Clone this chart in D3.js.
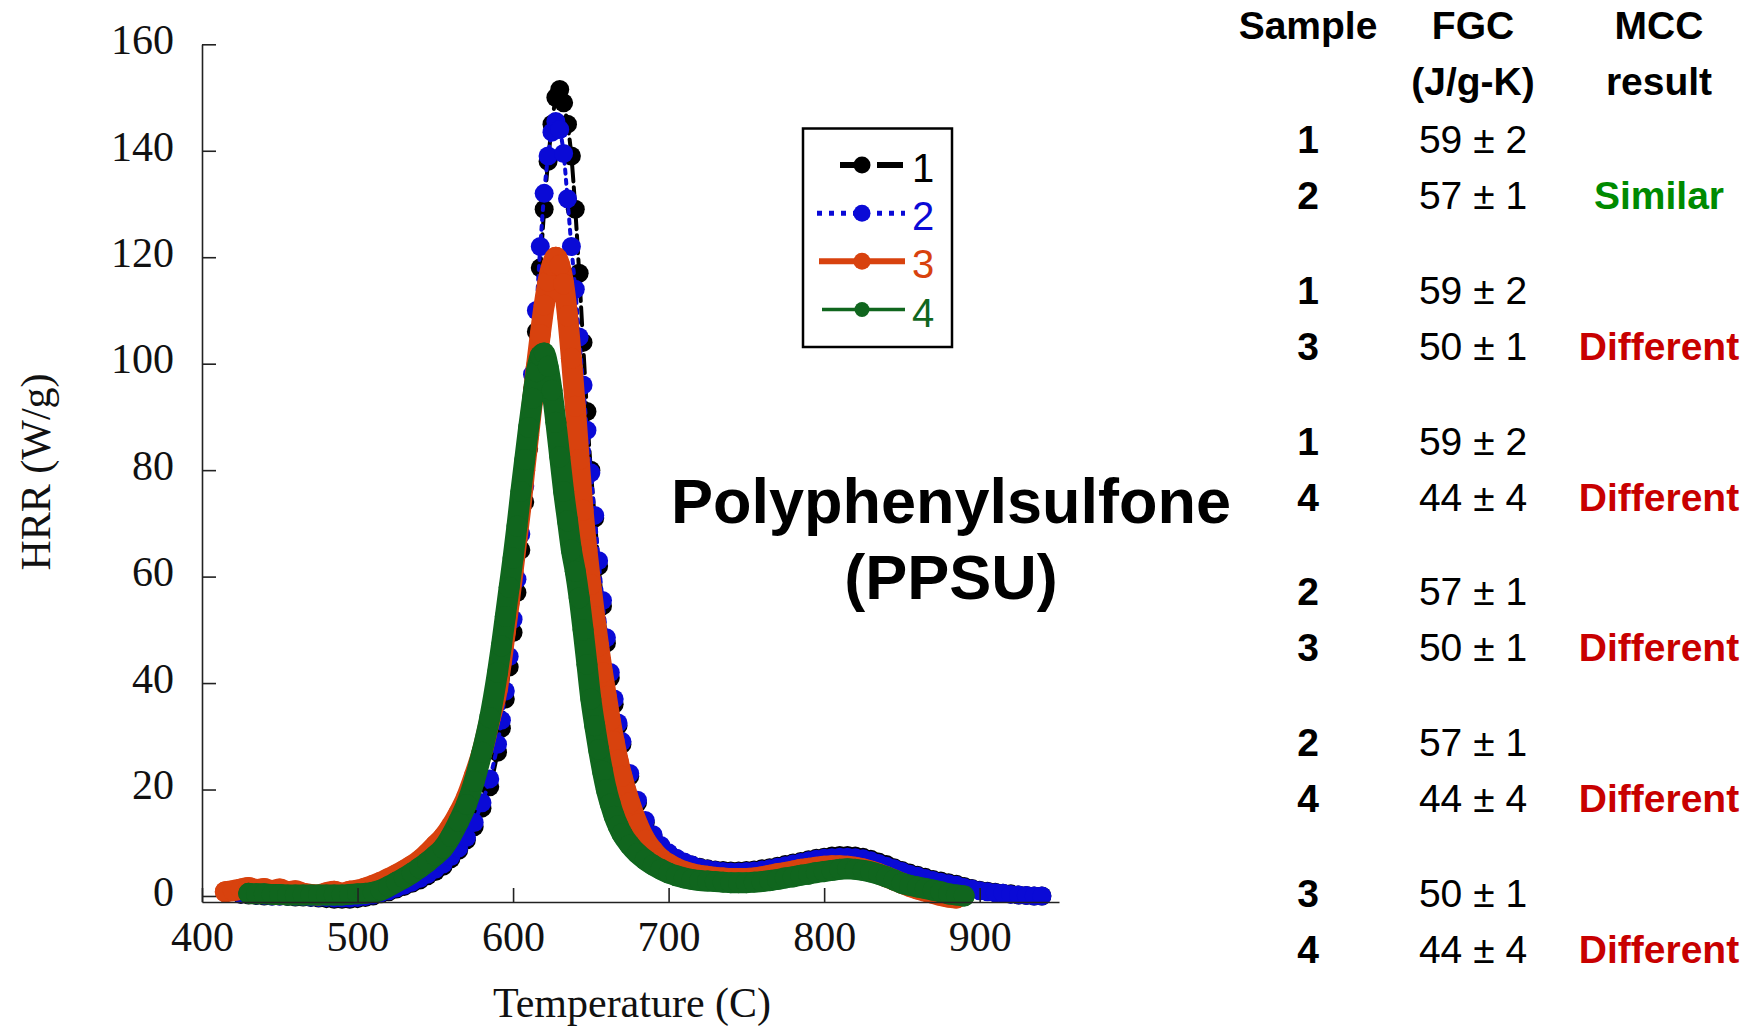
<!DOCTYPE html>
<html><head><meta charset="utf-8">
<script src="https://cdn.jsdelivr.net/npm/d3@7"></script>
<style>html,body{margin:0;padding:0;background:#fff;} svg{display:block;}</style>
</head><body>
<svg id="chart" width="1754" height="1027"></svg>
<script>
// ---------- data ----------
const temps = [
 415,420,425,430,435,440,445,450,455,460,465,470,475,480,485,490,495,500,505,510,
 515,520,525,530,535,540,545,550,555,560,565,570,575,580,585,
 590,592.5,595,597.5,600,602.5,605,607.5,610,612.5,615,617.5,620,622.5,625,627.5,
 630,632.5,635,637.5,640,642.5,645,647.5,650,652.5,655,657.5,660,662.5,665,667.5,670,
 675,680,685,690,695,700,705,710,715,720,725,730,735,740,745,750,755,760,765,770,
 775,780,785,790,795,800,805,810,815,820,825,830,835,840,845,850,855,860,865,870,
 875,880,885,890,895,900,905,910,915,920,925,930,935,940
];
const hrr1 = [
 null,null,0.3,0.2,0.1,0,0,0,-0.1,-0.2,-0.2,-0.3,-0.4,-0.5,-0.6,-0.6,-0.6,-0.5,-0.3,0,
 0.4,0.8,1.3,1.8,2.4,3,3.8,4.6,5.6,7,8.6,10.5,13,16.5,20.5,
 27,31.5,37,43,49.5,57,65,74,84,95,106,118,129,138,145,150,
 151.5,149,145,139,129,117,104,91,80,71,62,54.5,47.5,41,36,32,28.5,
 22.5,17.5,13.8,11.2,9.3,8,7,6.3,5.8,5.4,5.1,4.9,4.8,4.7,4.7,4.8,4.9,5.1,5.3,5.6,
 5.9,6.2,6.5,6.8,7.1,7.3,7.5,7.6,7.6,7.5,7.3,6.9,6.4,5.9,5.3,4.8,4.3,3.9,3.5,3.1,
 2.8,2.5,2.2,1.8,1.4,1.1,0.9,0.7,0.5,0.4,0.2,0.1,0,0
];
const hrr2 = [
 null,null,0.4,0.3,0.2,0.1,0,0,0,-0.1,-0.1,-0.2,-0.3,-0.3,-0.4,-0.4,-0.4,-0.3,-0.1,0.2,
 0.6,1,1.5,2,2.6,3.3,4.1,5,6,7.4,9,11,13.8,17.5,22,
 28.5,33,38.5,45,52,59.5,68,77,87,98,110,122,132,139,143.5,145.5,
 144,139.5,131,122,114,105,96,87.5,79.5,71.5,63,55.5,48.5,42,37,32.5,29,
 23,18,14.2,11.5,9.5,8.1,7.1,6.4,5.8,5.3,5,4.8,4.6,4.5,4.5,4.6,4.7,4.9,5.1,5.4,
 5.7,6,6.3,6.6,6.9,7.1,7.2,7.3,7.3,7.2,7,6.6,6.1,5.6,5.1,4.6,4.1,3.7,3.3,2.9,
 2.6,2.3,2,1.6,1.3,1,0.8,0.6,0.5,0.3,0.2,0.1,0,0
];
const hrr3 = [
 0.8,1,1.3,1.6,1.2,1.4,1,1.3,0.8,1,0.5,0.3,0.2,0.6,0.9,0.5,0.9,1.1,1.5,2,
 2.6,3.3,4,4.8,5.7,6.7,8,9.5,11,13,15.5,18.5,22.5,27,33,
 39,44,49.5,55,61,67,73,80,86.5,93,99.5,105.5,111,115.5,118.5,120,
 118.5,115,109,101,92,82,72.5,65,58.5,52.5,47,42,37.5,33,29,25.5,22.5,
 17.5,13.5,10.5,8.5,7,6,5.2,4.6,4.2,3.9,3.7,3.5,3.4,3.3,3.3,3.3,3.4,3.6,3.9,4.2,
 4.4,4.7,5,5.2,5.4,5.6,5.7,5.7,5.6,5.4,5.1,4.7,4.2,3.6,3,2.4,1.8,1.3,0.9,0.5,
 0.1,-0.2,-0.4,null,null,null,null,null,null,null,null,null,null,null
];
const hrr4 = [
 null,null,null,0.5,0.4,0.4,0.3,0.3,0.2,0.2,0.2,0.2,0.2,0.2,0.2,0.2,0.3,0.4,0.5,0.7,
 1.1,1.8,2.6,3.4,4.3,5.3,6.4,7.6,9,11.2,14,17.2,21.5,27,33.5,
 42,47,52.5,58,63.5,69.5,76,82,88,93.5,98.5,101.5,102,99.5,95,89,
 82.5,76,70.5,65,61,56,50,43.5,37,32,27.5,23.5,20,17.3,15,13.2,11.7,
 9.6,8,6.8,5.8,5,4.3,3.8,3.4,3.1,2.9,2.8,2.7,2.6,2.5,2.5,2.5,2.6,2.7,2.9,3.1,
 3.4,3.6,3.9,4.1,4.4,4.6,4.8,5,5.1,5,4.8,4.5,4.1,3.6,3,2.4,2,1.7,1.4,1.1,
 0.8,0.4,0.2,0,null,null,null,null,null,null,null,null,null,null
];
const seriesNames = ["1","2","3","4"];
const xTicks = [400,500,600,700,800,900];
const yTicks = [0,20,40,60,80,100,120,140,160];

const sampleIds = [1,2,3,4];
const fgcMean = [59,57,50,44];
const fgcErr = [2,1,1,4];
const pairs = [[1,2],[1,3],[1,4],[2,3],[2,4],[3,4]];
const mccResults = ["Similar","Different","Different","Different","Different","Different"];

// ---------- styles ----------
const SERIF = "'Liberation Serif','Times New Roman',serif";
const SANS = "'Liberation Sans',Arial,Helvetica,sans-serif";
const styles = [
  {color:"#000000", width:4, dash:"18,6", r:9.5, legW:6, legDash:"17,20,26", legR:8.5, legX0:840, legX1:903},
  {color:"#0a0ad6", width:4, dash:"4,6",  r:9.5, legW:5, legDash:"5,7", legR:8.5, legX0:817, legX1:905},
  {color:"#d8420e", width:21, dash:null,  r:10.5, legW:6, legDash:null, legR:8.5, legX0:819, legX1:905},
  {color:"#10661e", width:21, dash:null,  r:10.5, legW:3.5, legDash:null, legR:7.5, legX0:822, legX1:905}
];
const resultColor = {"Similar":"#008a00","Different":"#c80000"};

const svg = d3.select("#chart");
svg.append("rect").attr("width",1754).attr("height",1027).attr("fill","#fff");

const x = d3.scaleLinear().domain([400, 951]).range([202, 1059]);
const y = d3.scaleLinear().domain([-1.13, 160]).range([902, 44.3]);

// ---------- series ----------
const allSeries = [hrr1,hrr2,hrr3,hrr4].map(vals => temps.map((t,i)=>({t, v: vals[i]})).filter(d=>d.v!==null));
const line = d3.line().x(d=>x(d.t)).y(d=>y(d.v)).curve(d3.curveMonotoneX);

const plot = svg.append("g");
allSeries.forEach((data, si) => {
  const st = styles[si];
  const g = plot.append("g");
  g.append("path").datum(data).attr("d", line)
    .attr("fill","none").attr("stroke", st.color).attr("stroke-width", st.width)
    .attr("stroke-linejoin","round").attr("stroke-linecap","round")
    .attr("stroke-dasharray", st.dash);
  g.selectAll("circle").data(data).join("circle")
    .attr("cx", d=>x(d.t)).attr("cy", d=>y(d.v)).attr("r", st.r)
    .attr("fill", st.color);
});

// ---------- axes ----------
const yAxis = d3.axisLeft(y).tickValues(yTicks).tickSizeInner(-14).tickSizeOuter(0).tickPadding(28);
const gy = svg.append("g").attr("transform","translate(202,0)").call(yAxis);
const xAxis = d3.axisBottom(x).tickValues(xTicks).tickSizeInner(-14).tickSizeOuter(0).tickPadding(19);
const gx = svg.append("g").attr("transform","translate(0,902)").call(xAxis);
[gy,gx].forEach(g=>{
  g.attr("font-family", SERIF).attr("font-size", 42);
  g.select(".domain").attr("stroke","#222").attr("stroke-width",1.6);
  g.selectAll(".tick line").attr("stroke","#222").attr("stroke-width",1.6);
  g.selectAll(".tick text").attr("fill","#111");
});
gy.selectAll(".tick text").attr("dy","0.22em");

svg.append("text").attr("transform","translate(50,472) rotate(-90)")
  .attr("text-anchor","middle").attr("font-family",SERIF).attr("font-size",42).attr("fill","#111")
  .text("HRR (W/g)");
svg.append("text").attr("x",632).attr("y",1017)
  .attr("text-anchor","middle").attr("font-family",SERIF).attr("font-size",42).attr("fill","#111")
  .text("Temperature (C)");

// ---------- legend ----------
const leg = svg.append("g");
leg.append("rect").attr("x",803).attr("y",128.5).attr("width",149).attr("height",218.5)
  .attr("fill","#fff").attr("stroke","#000").attr("stroke-width",2.5);
const legY = d3.scaleLinear().domain([0,3]).range([165,309.5]);
seriesNames.forEach((name, i) => {
  const st = styles[i];
  const yy = legY(i);
  leg.append("line").attr("x1",st.legX0).attr("x2",st.legX1).attr("y1",yy).attr("y2",yy)
    .attr("stroke",st.color).attr("stroke-width",st.legW).attr("stroke-dasharray",st.legDash);
  leg.append("circle").attr("cx",862).attr("cy",yy).attr("r",st.legR).attr("fill",st.color);
  leg.append("text").attr("x",912).attr("y",yy+17).attr("font-family",SANS).attr("font-size",40)
    .attr("fill",st.color).text(name);
});

// ---------- title ----------
svg.append("text").attr("x",951).attr("y",523).attr("text-anchor","middle")
  .attr("font-family",SANS).attr("font-weight","bold").attr("font-size",63).attr("fill","#000")
  .text("Polyphenylsulfone");
svg.append("text").attr("x",951).attr("y",599).attr("text-anchor","middle")
  .attr("font-family",SANS).attr("font-weight","bold").attr("font-size",63).attr("fill","#000")
  .text("(PPSU)");

// ---------- table ----------
const tbl = svg.append("g").attr("font-family",SANS).attr("font-size",39).attr("text-anchor","middle");
const colSample = 1308, colFGC = 1473, colMCC = 1659;
const hdr = [["Sample",colSample,39],["FGC",colFGC,39],["MCC",colMCC,39],["(J/g-K)",colFGC,95],["result",colMCC,95]];
hdr.forEach(h => tbl.append("text").attr("x",h[1]).attr("y",h[2]).attr("font-weight","bold").attr("fill","#000").text(h[0]));
const groupY = d3.scaleLinear().domain([0,5]).range([153,907]);
pairs.forEach((p, gi) => {
  p.forEach((s, k) => {
    const yy = groupY(gi) + k*56;
    const idx = sampleIds.indexOf(s);
    tbl.append("text").attr("x",colSample).attr("y",yy).attr("font-weight","bold").attr("fill","#000").text(s);
    tbl.append("text").attr("x",colFGC).attr("y",yy).attr("fill","#000").text(fgcMean[idx] + " \u00B1 " + fgcErr[idx]);
    if (k === 1) {
      tbl.append("text").attr("x",colMCC).attr("y",yy).attr("font-weight","bold")
        .attr("fill",resultColor[mccResults[gi]]).text(mccResults[gi]);
    }
  });
});
</script>
</body></html>
